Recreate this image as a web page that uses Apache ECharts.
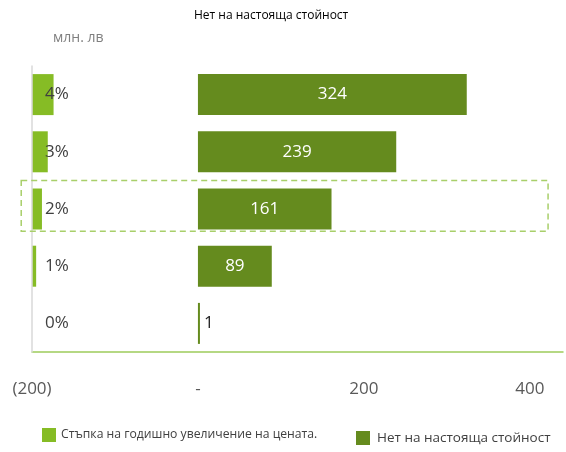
<!DOCTYPE html>
<html>
<head>
<meta charset="utf-8">
<script src="https://cdn.jsdelivr.net/npm/echarts@6/dist/echarts.min.js"></script>
<style>
  html, body { margin: 0; padding: 0; background: #fff; }
  #chart { width: 566px; height: 452px; }
</style>
</head>
<body>
<div id="chart"></div>
<script>
// Annual price-growth scenarios, bottom to top
const categories = ['0%', '1%', '2%', '3%', '4%'];
// Step of annual price increase (drawn from the left edge of the scale)
const stepValues = [0, 5, 12, 19, 26];
// Net present value, млн. лв
const npvValues = [1, 89, 161, 239, 324];
// Value-axis tick labels
const tickLabels = { '-200': '(200)', '0': '-', '200': '200', '400': '400' };

const stepName = 'Стъпка на годишно увеличение на цената.';
const npvName = 'Нет на настояща стойност';
const lightGreen = '#86BC25';
const darkGreen = '#658B1E';
const font = '"Open Sans", "Noto Sans", sans-serif';

const axisMin = -200, axisMax = 440;

const chart = echarts.init(document.getElementById('chart'));

const unitLabel = {
  type: 'text',
  left: 53, top: 31,
  style: { text: 'млн. лв', fontSize: 14, fill: '#7F7F7F', fontFamily: font }
};

chart.setOption({
  animation: false,
  textStyle: { fontFamily: font },
  title: {
    text: npvName,
    left: 194,
    top: 10,
    padding: 0,
    textStyle: { fontSize: 12, fontWeight: 'normal', color: '#000', fontFamily: font }
  },
  legend: [
    {
      data: [stepName],
      left: 42, top: 428,
      padding: 0,
      icon: 'rect', itemWidth: 14, itemHeight: 14,
      textStyle: { fontSize: 12.2, color: '#404040', padding: [28, 0, 0, 0] }
    },
    {
      data: [npvName],
      left: 356, top: 431,
      padding: 0,
      icon: 'rect', itemWidth: 14, itemHeight: 14,
      textStyle: { fontSize: 13.5, color: '#404040', padding: [-4, 0, 0, 2] }
    }
  ],
  grid: { left: 32, right: 0, top: 66, bottom: 100 },
  xAxis: [
    {
      type: 'value',
      min: axisMin, max: axisMax, interval: 200,
      splitLine: { show: false },
      axisTick: { show: false },
      axisLine: { show: true, lineStyle: { color: '#9DCB5B', width: 1.5 } },
      axisLabel: {
        fontSize: 17, color: '#595959', margin: 29,
        formatter: v => tickLabels[String(v)] || ''
      }
    },
    {
      // length scale for the step bars, anchored at the left end of the main axis
      type: 'value',
      min: 0, max: axisMax - axisMin,
      show: false
    }
  ],
  yAxis: {
    type: 'category',
    data: categories,
    z: 10,
    axisTick: { show: false },
    axisLine: { show: true, onZero: false, lineStyle: { color: '#D9D9D9', width: 1.5 } },
    axisLabel: { inside: true, margin: 13, fontSize: 17, color: '#404040' }
  },
  series: [
    {
      name: stepName,
      type: 'bar',
      xAxisIndex: 1,
      data: stepValues,
      barWidth: 41,
      barGap: '-100%',
      itemStyle: { color: lightGreen }
    },
    {
      name: npvName,
      type: 'bar',
      xAxisIndex: 0,
      data: npvValues.map(v => v < 20
        ? { value: v, label: { position: 'right', color: '#262626' } }
        : v),
      barWidth: 41,
      barGap: '-100%',
      barMinHeight: 2,
      itemStyle: { color: darkGreen },
      label: {
        show: true,
        position: 'inside',
        fontSize: 17,
        color: '#fff',
        distance: 4
      }
    }
  ],
  graphic: [unitLabel]
});

// Dashed highlight around the 2% scenario row
function drawHighlight() {
  const y = chart.convertToPixel({ yAxisIndex: 0 }, '2%');
  const x0 = chart.convertToPixel({ xAxisIndex: 0 }, -213);
  const x1 = chart.convertToPixel({ xAxisIndex: 0 }, 422);
  const y0 = chart.convertToPixel({ yAxisIndex: 0 }, '3%');
  const band = Math.abs(y - y0);
  chart.setOption({
    graphic: [
      unitLabel,
      {
        type: 'rect',
        z: 20,
        shape: { x: x0, y: y - band * 0.5, width: x1 - x0, height: band * 0.89 },
        style: { fill: 'none', stroke: '#A8CF6A', lineWidth: 1.5, lineDash: [6, 4] }
      }
    ]
  }, { replaceMerge: ['graphic'] });
}
drawHighlight();
</script>
</body>
</html>
